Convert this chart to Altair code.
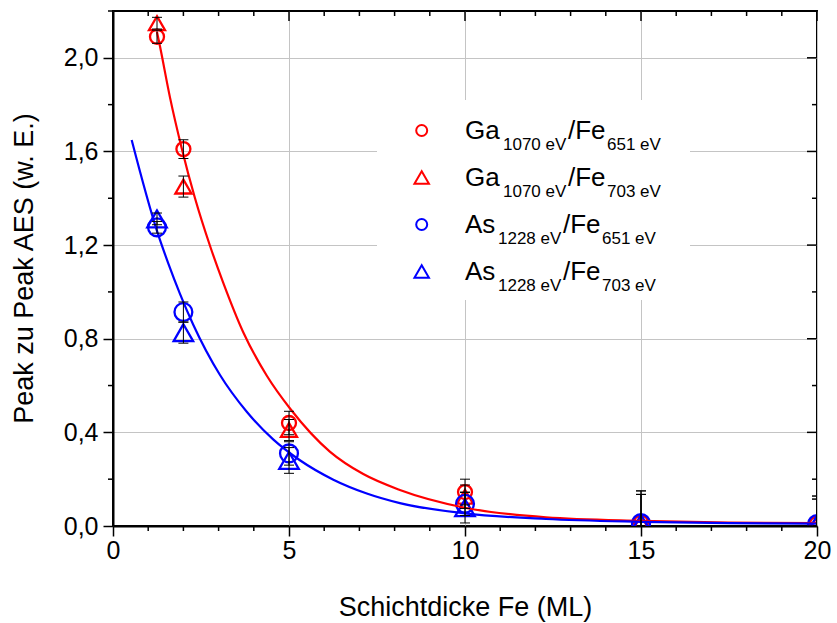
import altair as alt
import pandas as pd

# ---------------- data ----------------
x_vals = [1.25, 2, 5, 10, 15, 20]

ga651 = [2.09, 1.61, 0.44, 0.145, 0.015, 0.01]
ga651_err = [0.028, 0.04, 0.05, 0.055, 0.135, 0.118]
ga703 = [2.148, 1.45, 0.41, 0.125, 0.015, 0.01]
ga703_err = [0.025, 0.045, 0.045, 0.05, 0.12, 0.105]
as651 = [1.276, 0.914, 0.31, 0.095, 0.012, 0.008]
as651_err = [0.025, 0.043, 0.05, 0.05, 0.138, 0.12]
as703 = [1.312, 0.826, 0.28, 0.078, 0.012, 0.008]
as703_err = [0.025, 0.045, 0.055, 0.065, 0.123, 0.107]

fit_ga_x = [1.25, 1.32, 1.62, 1.95, 2.33, 2.76, 3.13, 3.70, 4.37, 5.04, 6.16, 7.11, 8.15, 10, 12.3, 15, 17.5, 20]
fit_ga_y = [2.11, 2.06, 1.83, 1.615, 1.40, 1.195, 1.04, 0.828, 0.642, 0.50, 0.318, 0.222, 0.154, 0.078, 0.037, 0.022, 0.015, 0.012]
fit_as_x = [0.53, 1.24, 1.57, 1.90, 2.28, 3.04, 3.80, 4.55, 5.31, 6.26, 7.21, 8.15, 10, 12.3, 15, 17.5, 20]
fit_as_y = [1.649, 1.265, 1.122, 0.993, 0.86, 0.645, 0.488, 0.37, 0.281, 0.198, 0.139, 0.098, 0.054, 0.03, 0.018, 0.012, 0.01]

series_keys = ["Ga651", "Ga703", "As651", "As703"]
series_vals = [ga651, ga703, as651, as703]
series_errs = [ga651_err, ga703_err, as651_err, as703_err]
series_colors = ["#ff0000", "#ff0000", "#0000ff", "#0000ff"]
series_shapes = ["circle", "triangle-up", "circle", "triangle-up"]
series_sizes = [196, 380, 196, 380]

x_major = [0, 5, 10, 15, 20]
x_minor = [1, 2, 3, 4, 6, 7, 8, 9, 11, 12, 13, 14, 16, 17, 18, 19]
y_major = [0.0, 0.4, 0.8, 1.2, 1.6, 2.0]
y_minor = [0.2, 0.6, 1.0, 1.4, 1.8, 2.2]

legend_main1 = ["Ga", "Ga", "As", "As"]
legend_sub1 = ["1070 eV", "1070 eV", "1228 eV", "1228 eV"]
legend_main2 = ["/Fe", "/Fe", "/Fe", "/Fe"]
legend_sub2 = ["651 eV", "703 eV", "651 eV", "703 eV"]

FONT = "Liberation Sans"
W, H = 704, 515

# ---------------- tables ----------------
rows = []
for k, vals, errs in zip(series_keys, series_vals, series_errs):
    for xv, yv, ev in zip(x_vals, vals, errs):
        rows.append({"series": k, "x": xv, "y": yv, "lo": yv - ev, "hi": yv + ev})
pts = pd.DataFrame(rows)

fit = pd.DataFrame(
    [{"series": "Ga651", "x": a, "y": b} for a, b in zip(fit_ga_x, fit_ga_y)]
    + [{"series": "As651", "x": a, "y": b} for a, b in zip(fit_as_x, fit_as_y)]
)

xscale = alt.Scale(domain=[0, 20], nice=False, zero=False)
yscale = alt.Scale(domain=[0, 2.2], nice=False, zero=False)

x_axis = alt.Axis(
    orient="bottom", values=x_major, labelOverlap=False, labelFlush=False,
    tickSize=10, tickWidth=1.5, tickColor="black",
    domainColor="black", domainWidth=2,
    grid=True, gridColor="#c4c4c4", gridWidth=1,
    labelFont=FONT, labelFontSize=25, labelColor="black", labelPadding=2,
    title="Schichtdicke Fe (ML)", titleFont=FONT, titleFontSize=27,
    titleFontWeight="normal", titleColor="black",
    titleBaseline="alphabetic", titleY=89,
)
y_axis = alt.Axis(
    orient="left", values=y_major, labelOverlap=False, labelFlush=False,
    labelExpr="replace(format(datum.value, '.1f'), '.', ',')",
    tickSize=10, tickWidth=1.5, tickColor="black",
    domainColor="black", domainWidth=2,
    grid=True, gridColor="#c4c4c4", gridWidth=1,
    labelFont=FONT, labelFontSize=25, labelColor="black", labelPadding=5,
    title="Peak zu Peak AES (w. E.)", titleFont=FONT, titleFontSize=27,
    titleFontWeight="normal", titleColor="black",
    titleBaseline="alphabetic", titleAngle=270, titleX=-81, titleY=257,
)

color_scale = alt.Scale(domain=series_keys, range=series_colors)
shape_scale = alt.Scale(domain=series_keys, range=series_shapes)
size_scale = alt.Scale(domain=series_keys, range=series_sizes)

base = alt.Chart(pts)

# legend background box (hides grid behind legend)
legend_bg = alt.Chart(pd.DataFrame({"a": [0]})).mark_rect(color="white").encode(
    x=alt.value(264), x2=alt.value(577), y=alt.value(89), y2=alt.value(289)
)

fit_lines = alt.Chart(fit).mark_line(strokeWidth=2.2, clip=True, interpolate="monotone").encode(
    x=alt.X("x:Q", scale=xscale, axis=None),
    y=alt.Y("y:Q", scale=yscale, axis=None),
    color=alt.Color("series:N", scale=color_scale, legend=None),
    detail="series:N",
)

points = base.mark_point(filled=False, strokeWidth=2.3, clip=True, opacity=1).encode(
    x=alt.X("x:Q", scale=xscale, axis=x_axis),
    y=alt.Y("y:Q", scale=yscale, axis=y_axis),
    color=alt.Color("series:N", scale=color_scale, legend=None),
    shape=alt.Shape("series:N", scale=shape_scale, legend=None),
    size=alt.Size("series:N", scale=size_scale, legend=None),
)

err_rule = base.mark_rule(color="black", strokeWidth=1, clip=True, opacity=1).encode(
    x=alt.X("x:Q", scale=xscale, axis=None),
    y=alt.Y("lo:Q", scale=yscale, axis=None),
    y2="hi:Q",
)
cap_lo = base.mark_tick(color="black", orient="horizontal", size=10, thickness=1, clip=True, opacity=1).encode(
    x=alt.X("x:Q", scale=xscale, axis=None),
    y=alt.Y("lo:Q", scale=yscale, axis=None),
)
cap_hi = base.mark_tick(color="black", orient="horizontal", size=10, thickness=1, clip=True, opacity=1).encode(
    x=alt.X("x:Q", scale=xscale, axis=None),
    y=alt.Y("hi:Q", scale=yscale, axis=None),
)

# ---------------- minor ticks & mirrored (inward) ticks ----------------
def xticks(vals, y0, y1):
    return alt.Chart(pd.DataFrame({"v": vals})).mark_rule(color="black", strokeWidth=1.5).encode(
        x=alt.X("v:Q", scale=xscale, axis=None), y=alt.value(y0), y2=alt.value(y1)
    )

def yticks(vals, x0, x1):
    return alt.Chart(pd.DataFrame({"v": vals})).mark_rule(color="black", strokeWidth=1.5).encode(
        y=alt.Y("v:Q", scale=yscale, axis=None), x=alt.value(x0), x2=alt.value(x1)
    )

tick_layers = [
    xticks(x_minor, H, H + 5),          # bottom minor (outward)
    xticks(x_major, 0, 10),             # top major (inward)
    xticks(x_minor, 0, 5),              # top minor (inward)
    yticks(y_minor, -5, 0),             # left minor (outward)
    yticks(y_major, W - 10, W),         # right major (inward)
    yticks(y_minor, W - 5, W),          # right minor (inward)
]

# ---------------- hand-made legend with subscripts ----------------
one = pd.DataFrame({"a": [0]})
leg_layers = []
baselines = [127.5, 174.5, 221.5, 268.5]
for i in range(4):
    b = baselines[i]
    is_ga = legend_main1[i] == "Ga"
    sym = alt.Chart(one).mark_point(
        filled=False, strokeWidth=2, color=series_colors[i], shape=series_shapes[i], opacity=1,
        size=121 if series_shapes[i] == "circle" else 210,
    ).encode(x=alt.value(308.7), y=alt.value(b - 8))
    leg_layers.append(sym)
    parts = [
        (legend_main1[i], 352, b, 26),
        (legend_sub1[i], 390 if is_ga else 385, b + 11, 17),
        (legend_main2[i], 455 if is_ga else 450, b, 26),
        (legend_sub2[i], 494 if is_ga else 489, b + 11, 17),
    ]
    for txt, px, py, fs in parts:
        leg_layers.append(
            alt.Chart(one).mark_text(
                align="left", baseline="alphabetic", font=FONT, fontSize=fs, color="black"
            ).encode(x=alt.value(px), y=alt.value(py), text=alt.value(txt))
        )

chart = alt.layer(
    legend_bg, points, fit_lines, err_rule, cap_lo, cap_hi, *tick_layers, *leg_layers
).resolve_scale(x="shared", y="shared").resolve_axis(
    x="independent", y="independent"
).properties(
    width=W, height=H,
    padding={"left": 113, "top": 11, "right": 20, "bottom": 97},
    autosize=alt.AutoSizeParams(type="none"),
    background="white",
).configure_view(stroke="black", strokeWidth=2)

chart.save("out.html", embed_options={"renderer": "svg", "actions": False})
